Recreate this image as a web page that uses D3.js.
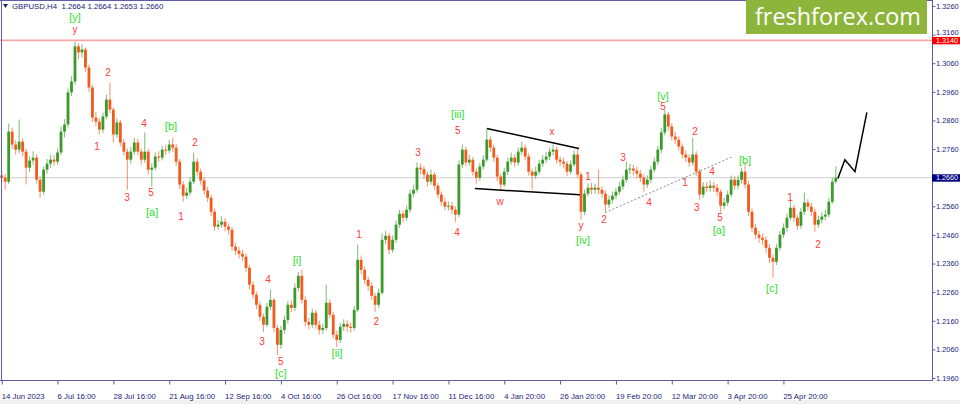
<!DOCTYPE html>
<html><head><meta charset="utf-8">
<script src="https://cdn.jsdelivr.net/npm/d3@7"></script>
<style>body{margin:0;background:#fff;} svg{display:block;}</style>
</head><body>
<svg id="c" width="960" height="404"></svg>
<script>
// ---- data ----
const symbol = "GBPUSD,H4";
const lastOHLC = [1.2664, 1.2664, 1.2653, 1.2660];
const firstOpen = 1.2668;
const close = [
1.2660,1.2646,1.2821,1.2776,1.2758,1.2786,1.2751,1.2695,1.2720,1.2730,
1.2653,1.2611,1.2688,1.2709,1.2723,1.2716,1.2748,1.2821,1.2846,1.2958,
1.2996,1.3119,1.3098,1.3108,1.3045,1.2975,1.2870,1.2856,1.2828,1.2874,
1.2933,1.2898,1.2811,1.2853,1.2783,1.2751,1.2723,1.2751,1.2783,1.2751,
1.2723,1.2751,1.2688,1.2695,1.2734,1.2730,1.2758,1.2755,1.2776,1.2765,
1.2716,1.2636,1.2597,1.2608,1.2646,1.2716,1.2681,1.2650,1.2615,1.2590,
1.2541,1.2489,1.2496,1.2506,1.2489,1.2478,1.2419,1.2405,1.2394,1.2384,
1.2345,1.2286,1.2251,1.2216,1.2174,1.2146,1.2209,1.2233,1.2135,1.2076,
1.2128,1.2163,1.2216,1.2205,1.2275,1.2317,1.2233,1.2156,1.2146,1.2188,
1.2146,1.2128,1.2135,1.2223,1.2181,1.2111,1.2093,1.2139,1.2149,1.2139,
1.2135,1.2198,1.2373,1.2338,1.2303,1.2282,1.2247,1.2216,1.2258,1.2443,
1.2457,1.2408,1.2443,1.2496,1.2534,1.2520,1.2548,1.2604,1.2618,1.2695,
1.2690,1.2671,1.2646,1.2671,1.2632,1.2601,1.2576,1.2559,1.2562,1.2548,
1.2531,1.2706,1.2758,1.2713,1.2723,1.2681,1.2660,1.2699,1.2723,1.2793,
1.2765,1.2730,1.2664,1.2636,1.2681,1.2716,1.2730,1.2713,1.2751,1.2765,
1.2734,1.2681,1.2667,1.2681,1.2709,1.2723,1.2734,1.2751,1.2758,1.2723,
1.2716,1.2709,1.2681,1.2706,1.2741,1.2671,1.2541,1.2604,1.2625,1.2618,
1.2625,1.2618,1.2604,1.2566,1.2583,1.2597,1.2611,1.2629,1.2653,1.2688,
1.2692,1.2685,1.2674,1.2660,1.2636,1.2653,1.2688,1.2716,1.2758,1.2818,
1.2881,1.2839,1.2804,1.2793,1.2769,1.2741,1.2730,1.2713,1.2741,1.2681,
1.2601,1.2629,1.2624,1.2632,1.2625,1.2611,1.2562,1.2573,1.2601,1.2653,
1.2632,1.2653,1.2681,1.2636,1.2541,1.2485,1.2461,1.2450,1.2443,1.2415,
1.2380,1.2366,1.2415,1.2461,1.2485,1.2520,1.2555,1.2520,1.2492,1.2541,
1.2573,1.2559,1.2541,1.2496,1.2513,1.2524,1.2531,1.2576,1.2646,1.2660];
const high = [
1.2685,1.2672,1.2849,1.2835,1.2790,1.2863,1.2798,1.2762,1.2735,1.2752,
1.2742,1.2665,1.2700,1.2725,1.2740,1.2738,1.2762,1.2839,1.2865,1.2972,
1.3015,1.3136,1.3130,1.3126,1.3115,1.3055,1.2985,1.2890,1.2868,1.2888,
1.2950,1.2993,1.2905,1.2868,1.2862,1.2795,1.2762,1.2768,1.2800,1.2795,
1.2762,1.2818,1.2760,1.2710,1.2748,1.2752,1.2772,1.2775,1.2792,1.2800,
1.2778,1.2725,1.2648,1.2625,1.2662,1.2748,1.2728,1.2692,1.2662,1.2628,
1.2600,1.2552,1.2512,1.2525,1.2518,1.2500,1.2488,1.2432,1.2418,1.2408,
1.2395,1.2355,1.2298,1.2262,1.2228,1.2185,1.2222,1.2268,1.2240,1.2145,
1.2142,1.2178,1.2230,1.2232,1.2290,1.2330,1.2338,1.2245,1.2170,1.2202,
1.2198,1.2160,1.2150,1.2286,1.2235,1.2192,1.2125,1.2152,1.2165,1.2162,
1.2155,1.2212,1.2426,1.2388,1.2350,1.2315,1.2295,1.2258,1.2272,1.2465,
1.2475,1.2468,1.2458,1.2510,1.2548,1.2545,1.2562,1.2618,1.2635,1.2713,
1.2710,1.2700,1.2682,1.2688,1.2680,1.2642,1.2612,1.2590,1.2578,1.2575,
1.2560,1.2720,1.2776,1.2768,1.2740,1.2732,1.2692,1.2712,1.2738,1.2828,
1.2805,1.2775,1.2740,1.2675,1.2695,1.2730,1.2748,1.2742,1.2765,1.2786,
1.2775,1.2745,1.2692,1.2698,1.2722,1.2738,1.2750,1.2765,1.2776,1.2768,
1.2735,1.2730,1.2718,1.2720,1.2755,1.2765,1.2680,1.2618,1.2640,1.2642,
1.2640,1.2688,1.2630,1.2615,1.2598,1.2612,1.2625,1.2645,1.2668,1.2716,
1.2708,1.2705,1.2698,1.2688,1.2672,1.2668,1.2702,1.2730,1.2772,1.2835,
1.2898,1.2890,1.2850,1.2820,1.2805,1.2780,1.2755,1.2742,1.2800,1.2752,
1.2690,1.2645,1.2645,1.2650,1.2645,1.2638,1.2620,1.2590,1.2615,1.2668,
1.2665,1.2668,1.2695,1.2716,1.2648,1.2552,1.2498,1.2475,1.2465,1.2455,
1.2428,1.2392,1.2428,1.2475,1.2500,1.2535,1.2583,1.2565,1.2530,1.2555,
1.2608,1.2585,1.2572,1.2552,1.2528,1.2538,1.2548,1.2590,1.2660,1.2699];
const low = [
1.2640,1.2618,1.2638,1.2760,1.2740,1.2745,1.2735,1.2636,1.2680,1.2705,
1.2640,1.2590,1.2600,1.2675,1.2695,1.2700,1.2705,1.2738,1.2800,1.2835,
1.2945,1.2985,1.3075,1.3080,1.3030,1.2960,1.2855,1.2840,1.2812,1.2815,
1.2865,1.2885,1.2783,1.2800,1.2770,1.2738,1.2618,1.2710,1.2740,1.2738,
1.2705,1.2712,1.2672,1.2629,1.2685,1.2715,1.2720,1.2738,1.2745,1.2750,
1.2702,1.2620,1.2576,1.2585,1.2598,1.2638,1.2668,1.2635,1.2600,1.2575,
1.2525,1.2475,1.2478,1.2485,1.2472,1.2462,1.2405,1.2390,1.2378,1.2370,
1.2330,1.2270,1.2237,1.2200,1.2160,1.2121,1.2138,1.2198,1.2120,1.2040,
1.2062,1.2115,1.2150,1.2190,1.2195,1.2262,1.2220,1.2140,1.2130,1.2135,
1.2132,1.2112,1.2115,1.2125,1.2168,1.2098,1.2068,1.2082,1.2125,1.2122,
1.2118,1.2125,1.2190,1.2322,1.2288,1.2265,1.2232,1.2191,1.2205,1.2250,
1.2428,1.2392,1.2398,1.2432,1.2485,1.2505,1.2510,1.2538,1.2592,1.2608,
1.2672,1.2655,1.2630,1.2635,1.2618,1.2588,1.2562,1.2545,1.2545,1.2532,
1.2506,1.2522,1.2695,1.2700,1.2702,1.2668,1.2640,1.2650,1.2688,1.2715,
1.2750,1.2715,1.2648,1.2618,1.2628,1.2670,1.2705,1.2698,1.2702,1.2740,
1.2720,1.2668,1.2618,1.2655,1.2670,1.2698,1.2712,1.2722,1.2738,1.2710,
1.2700,1.2692,1.2665,1.2672,1.2698,1.2658,1.2513,1.2530,1.2595,1.2602,
1.2605,1.2602,1.2590,1.2541,1.2555,1.2570,1.2585,1.2600,1.2618,1.2642,
1.2672,1.2668,1.2658,1.2645,1.2611,1.2625,1.2642,1.2678,1.2705,1.2745,
1.2808,1.2825,1.2790,1.2778,1.2755,1.2728,1.2715,1.2698,1.2702,1.2665,
1.2583,1.2590,1.2610,1.2612,1.2610,1.2595,1.2538,1.2550,1.2562,1.2592,
1.2618,1.2620,1.2640,1.2622,1.2525,1.2470,1.2445,1.2432,1.2425,1.2398,
1.2362,1.2310,1.2355,1.2405,1.2450,1.2472,1.2510,1.2505,1.2478,1.2482,
1.2530,1.2545,1.2525,1.2471,1.2485,1.2500,1.2510,1.2522,1.2568,1.2640];

const timeTickBars = [0,16,32,48,64,80,96,112,128,144,160,176,192,208,224];
const timeTickLabels = ["14 Jun 2023","6 Jul 16:00","28 Jul 16:00","21 Aug 16:00","12 Sep 16:00","4 Oct 16:00","26 Oct 16:00","17 Nov 16:00","11 Dec 16:00","4 Jan 20:00","26 Jan 20:00","19 Feb 20:00","12 Mar 20:00","3 Apr 20:00","25 Apr 20:00"];
const priceTicks = [1.3260,1.3160,1.3060,1.2960,1.2860,1.2760,1.2660,1.2560,1.2460,1.2360,1.2260,1.2160,1.2060,1.1960];
const currentPrice = 1.2660;
const levelPrice = 1.3140;

// wave labels: [bar, price, text, kind]  kind r = minor (red), g = major (green)
const waveLabels = [
[21.0,1.3220,"[y]","g"],[21.0,1.3178,"y","r"],[30.5,1.3028,"2","r"],[27.3,1.2769,"1","r"],
[35.9,1.2590,"3","r"],[40.8,1.2849,"4","r"],[42.8,1.2608,"5","r"],[43.1,1.2541,"[a]","g"],
[48.5,1.2839,"[b]","g"],[55.4,1.2783,"2","r"],[51.4,1.2524,"1","r"],[74.6,1.2086,"3","r"],
[76.3,1.2303,"4","r"],[80.0,1.2016,"5","r"],[80.0,1.1978,"[c]","g"],[84.6,1.2373,"[i]","g"],
[96.1,1.2047,"[ii]","g"],[102.4,1.2461,"1","r"],[107.3,1.2156,"2","r"],[119.3,1.2748,"3","r"],
[130.5,1.2468,"4","r"],[130.7,1.2825,"5","r"],[130.7,1.2881,"[iii]","g"],[142.8,1.2576,"w","r"],
[157.7,1.2821,"x","r"],[166.0,1.2492,"y","r"],[166.6,1.2443,"[iv]","g"],[168.0,1.2664,"1","r"],
[172.6,1.2513,"2","r"],[178.0,1.2730,"3","r"],[185.5,1.2573,"4","r"],[189.5,1.2909,"5","r"],
[189.5,1.2944,"[v]","g"],[198.7,1.2821,"2","r"],[195.8,1.2643,"1","r"],[203.5,1.2681,"4","r"],
[199.2,1.2555,"3","r"],[205.8,1.2520,"5","r"],[205.5,1.2478,"[a]","g"],[213.0,1.2723,"[b]","g"],
[220.7,1.2275,"[c]","g"],[225.9,1.2590,"1","r"],[233.9,1.2426,"2","r"]];

const triangleUpper = [[139.0,1.2832],[165.4,1.2762]];
const triangleLower = [[135.6,1.2622],[165.7,1.2600]];
const dottedTrend = [[172.9,1.2538],[209.5,1.2734]];
const projection = [[239.6,1.2657],[241.6,1.2723],[244.5,1.2681],[247.9,1.2888]];

// ---- drawing ----
const svg = d3.select("#c");
const x = d3.scaleLinear().domain([0, 239]).range([1.7, 835.8]);
const y = d3.scaleLinear().domain([1.1960, 1.3260]).range([378, 6]);
const axisCol = "#5c5ca8", textCol = "#22227a";
const upCol = "#3a9a2a", dnCol = "#f35a1c";
const fontF = "'Liberation Sans', Arial, sans-serif";

svg.append("rect").attr("x",0).attr("y",400).attr("width",960).attr("height",4).attr("fill","#f0f0f0");

// level lines
svg.append("line").attr("x1",0).attr("x2",932).attr("y1",y(currentPrice)).attr("y2",y(currentPrice))
  .attr("stroke","#cfcfcf").attr("stroke-width",1);
svg.append("line").attr("x1",0).attr("x2",932).attr("y1",y(levelPrice)).attr("y2",y(levelPrice))
  .attr("stroke","#f6a8a8").attr("stroke-width",1.6);

// candles
const bars = close.map((c,i)=>({i, o: i ? close[i-1] : firstOpen, c, h: high[i], l: low[i]}));
const cg = svg.append("g");
cg.selectAll("line.w").data(bars).join("line").attr("class","w")
  .attr("x1",d=>x(d.i)).attr("x2",d=>x(d.i))
  .attr("y1",d=>y(d.h)).attr("y2",d=>y(d.l))
  .attr("stroke",d=>d.c>=d.o?upCol:dnCol).attr("stroke-width",1.1).attr("opacity",0.6);
cg.selectAll("rect.b").data(bars).join("rect").attr("class","b")
  .attr("x",d=>x(d.i)-1.4).attr("width",2.8)
  .attr("y",d=>Math.min(y(d.o),y(d.c)))
  .attr("height",d=>Math.max(1,Math.abs(y(d.o)-y(d.c))))
  .attr("fill",d=>d.c>=d.o?upCol:dnCol);

// annotation lines
const ln = d3.line().x(d=>x(d[0])).y(d=>y(d[1]));
svg.append("path").attr("d",ln(triangleUpper)).attr("stroke","#000").attr("stroke-width",1.5).attr("fill","none");
svg.append("path").attr("d",ln(triangleLower)).attr("stroke","#000").attr("stroke-width",1.5).attr("fill","none");
svg.append("path").attr("d",ln(dottedTrend)).attr("stroke","#8a8a8a").attr("stroke-width",1).attr("stroke-dasharray","2,2").attr("fill","none");
svg.append("path").attr("d",ln(projection)).attr("stroke","#000").attr("stroke-width",1.5).attr("fill","none");

// wave labels
svg.append("g").selectAll("text").data(waveLabels).join("text")
  .attr("x",d=>x(d[0])).attr("y",d=>y(d[1]))
  .attr("text-anchor","middle").attr("dominant-baseline","central")
  .attr("font-family",fontF)
  .attr("font-size",d=>d[3]==="g"?11:10)
  .attr("fill",d=>d[3]==="g"?"#2fe02f":"#ff3b3b")
  .text(d=>d[2]);

// frame
svg.append("line").attr("x1",1.5).attr("x2",1.5).attr("y1",0).attr("y2",380.5).attr("stroke",axisCol);
svg.append("line").attr("x1",0).attr("x2",932.5).attr("y1",380.5).attr("y2",380.5).attr("stroke",axisCol);
svg.append("line").attr("x1",932.5).attr("x2",932.5).attr("y1",0).attr("y2",381).attr("stroke",axisCol);
svg.append("line").attr("x1",0).attr("x2",932.5).attr("y1",0.5).attr("y2",0.5).attr("stroke",axisCol);

// right axis
const ya = svg.append("g").attr("transform","translate(932.5,0)")
  .call(d3.axisRight(y).tickValues(priceTicks).tickFormat(d3.format(".4f")).tickSize(3).tickPadding(0));
ya.select(".domain").remove();
ya.selectAll(".tick line").attr("stroke",axisCol);
ya.selectAll(".tick text").attr("fill",textCol).attr("font-family",fontF).attr("font-size",7.4).attr("x",3.5);
// keep the label just above the level box clear of it
ya.selectAll(".tick text").filter(d=>Math.abs(d-levelPrice)<0.0035).attr("dy","-0.05em");

// bottom axis
const xa = svg.append("g").attr("transform","translate(0,380.5)")
  .call(d3.axisBottom(x).tickValues(timeTickBars).tickFormat((d,i)=>timeTickLabels[i]).tickSize(4));
xa.select(".domain").remove();
xa.selectAll(".tick line").attr("stroke",axisCol);
xa.selectAll(".tick text").attr("fill",textCol).attr("font-family",fontF).attr("font-size",7.8)
  .attr("text-anchor","start").attr("x",-0.5).attr("y",18).attr("dy",0);

// price boxes
function priceBox(p, fill){
  const yy = y(p);
  svg.append("rect").attr("x",932).attr("y",yy-3.4).attr("width",28).attr("height",7.4).attr("fill",fill);
  svg.append("text").attr("x",936).attr("y",yy+0.3).attr("dominant-baseline","central")
    .attr("fill","#fff").attr("font-family",fontF).attr("font-size",7.2).text(d3.format(".4f")(p));
}
priceBox(levelPrice, "#ff0000");
priceBox(currentPrice, "#000080");

// header
svg.append("path").attr("d","M3,4 L8,4 L5.5,8 Z").attr("fill",textCol);
svg.append("text").attr("x",12).attr("y",9).attr("fill",textCol).attr("font-family",fontF).attr("font-size",7.8)
  .attr("xml:space","preserve")
  .text(symbol + "  " + lastOHLC.map(d3.format(".4f")).join(" "));

// logo
svg.append("rect").attr("x",746).attr("y",0).attr("width",181).attr("height",34).attr("fill","#8db53c");
svg.append("text").attr("x",755).attr("y",25).attr("fill","#fff").attr("font-family","'Open Sans', sans-serif")
  .attr("font-size",23).attr("textLength",166).attr("lengthAdjust","spacingAndGlyphs").text("freshforex.com");
</script>
</body></html>
